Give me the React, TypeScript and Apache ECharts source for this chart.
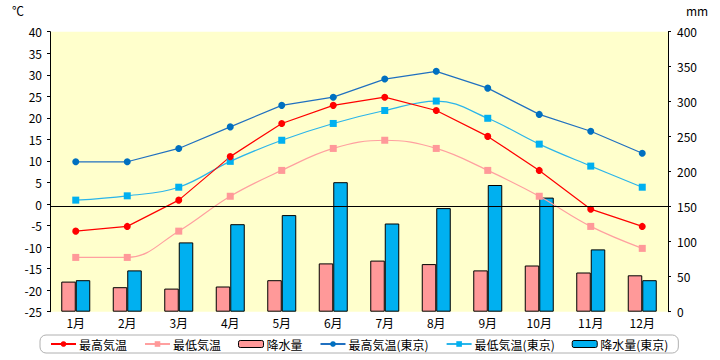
import React, { useEffect, useRef } from "react";
import * as echarts from "echarts";

const months = ["1月", "2月", "3月", "4月", "5月", "6月", "7月", "8月", "9月", "10月", "11月", "12月"];
const maxTemp = [-6.3, -5.2, 0.9, 11.0, 18.7, 22.9, 24.8, 21.7, 15.7, 7.8, -1.2, -5.2];
const minTemp = [-12.4, -12.4, -6.3, 1.8, 7.8, 12.9, 14.8, 12.9, 7.8, 1.8, -5.2, -10.3];
const precip = [43, 35, 33, 36, 45, 69, 73, 68, 59, 66, 56, 52];
const maxTempTokyo = [9.8, 9.8, 12.9, 17.9, 22.9, 24.8, 29.0, 30.8, 26.9, 20.8, 16.9, 11.8];
const minTempTokyo = [0.9, 1.9, 3.9, 9.9, 14.8, 18.7, 21.7, 23.9, 19.9, 13.9, 8.8, 3.9];
const precipTokyo = [45, 59, 99, 125, 138, 185, 126, 148, 181, 163, 89, 45];

const names = ["最高気温", "最低気温", "降水量", "最高気温(東京)", "最低気温(東京)", "降水量(東京)"];

const FONT = "Noto Sans CJK JP";

export default function App() {
  const ref = useRef<HTMLDivElement>(null);
  useEffect(() => {
    document.body.style.margin = "0";
    if (!ref.current) return;
    const chart = echarts.init(ref.current, null, { renderer: "svg" });
    const txt = { color: "#000", fontFamily: FONT, fontSize: 12 };
    const legendData = names.map((n) =>
      n.startsWith("降水量") ? { name: n, itemStyle: { borderWidth: 1 } } : { name: n }
    );
    chart.setOption({
      animation: false,
      textStyle: { fontFamily: FONT },
      grid: {
        left: 50,
        right: 52,
        top: 31.7,
        bottom: 48.3,
        show: true,
        backgroundColor: "#FFFFCC",
        borderWidth: 0,
      },
      graphic: [
        { type: "text", left: 12, top: 4, style: { text: "℃", fill: "#000", font: `12px '${FONT}'` } },
        { type: "text", left: 686, top: 4, style: { text: "mm", fill: "#000", font: `12px '${FONT}'` } },
      ],
      legend: {
        data: legendData,
        left: 40,
        top: 335,
        itemGap: 17,
        itemWidth: 25,
        itemHeight: 7,
        padding: [3, 10, 3, 10],
        borderColor: "#b0b0b0",
        borderWidth: 1,
        borderRadius: 6,
        textStyle: { ...txt, padding: [0, 0, 0, -2] },
      },
      xAxis: {
        type: "category",
        data: months,
        axisLine: { show: false },
        axisTick: { show: false },
        axisLabel: { ...txt, margin: 5 },
      },
      yAxis: [
        {
          type: "value",
          min: -25,
          max: 40,
          interval: 5,
          position: "left",
          axisLine: { show: true, lineStyle: { color: "#000", width: 1 } },
          axisTick: { show: true, inside: false, length: 3, lineStyle: { color: "#000" } },
          splitLine: { show: false },
          axisLabel: { ...txt, margin: 8 },
        },
        {
          type: "value",
          min: 0,
          max: 400,
          interval: 50,
          position: "right",
          axisLine: { show: true, lineStyle: { color: "#000", width: 1 } },
          axisTick: { show: true, inside: false, length: 3, lineStyle: { color: "#000" } },
          splitLine: { show: false },
          axisLabel: { ...txt, margin: 9 },
        },
      ],
      series: [
        {
          name: "降水量",
          type: "bar",
          yAxisIndex: 1,
          data: precip,
          barWidth: 14.5,
          barGap: "0%",
          itemStyle: { color: "#FF9999", borderColor: "#000", borderWidth: 1 },
        },
        {
          name: "降水量(東京)",
          type: "bar",
          yAxisIndex: 1,
          data: precipTokyo,
          barWidth: 14.5,
          barGap: "0%",
          itemStyle: { color: "#00B0F0", borderColor: "#000", borderWidth: 1 },
          markLine: {
            silent: true,
            symbol: "none",
            label: { show: false },
            lineStyle: { color: "#000", width: 1, type: "solid" },
            data: [{ yAxis: 150 }],
          },
        },
        {
          name: "最低気温",
          type: "line",
          data: minTemp,
          smooth: 0.4,
          symbol: "rect",
          symbolSize: 7,
          lineStyle: { color: "#FFA0A0", width: 1.2 },
          itemStyle: { color: "#FF9999" },
        },
        {
          name: "最低気温(東京)",
          type: "line",
          data: minTempTokyo,
          smooth: 0.4,
          symbol: "rect",
          symbolSize: 7,
          lineStyle: { color: "#2BB5EA", width: 1.2 },
          itemStyle: { color: "#00B0F0" },
        },
        {
          name: "最高気温",
          type: "line",
          data: maxTemp,
          symbol: "circle",
          symbolSize: 7,
          lineStyle: { color: "#FF0000", width: 1.2 },
          itemStyle: { color: "#FF0000" },
        },
        {
          name: "最高気温(東京)",
          type: "line",
          data: maxTempTokyo,
          symbol: "circle",
          symbolSize: 7,
          lineStyle: { color: "#2070C0", width: 1.2 },
          itemStyle: { color: "#0070C0" },
        },
      ],
    });
    return () => chart.dispose();
  }, []);
  return <div ref={ref} style={{ width: 720, height: 360 }} />;
}
